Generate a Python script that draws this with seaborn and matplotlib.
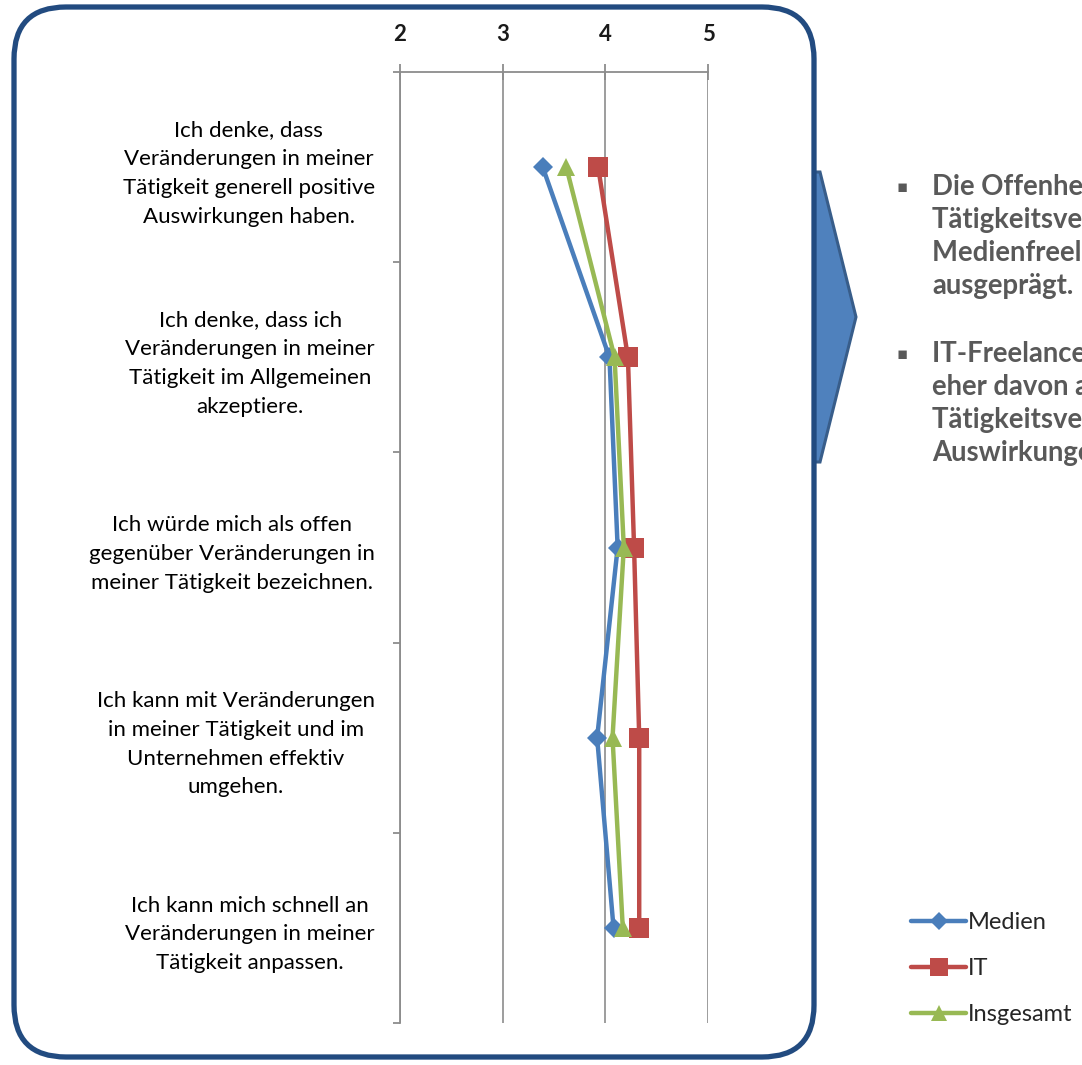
import matplotlib
matplotlib.use("Agg")
import matplotlib.pyplot as plt
import numpy as np
import pandas as pd
import seaborn as sns
from matplotlib.patches import FancyBboxPatch, Polygon
from matplotlib.lines import Line2D

# ---- data -------------------------------------------------------------
statements = [
    "Ich denke, dass\nVeränderungen in meiner\nTätigkeit generell positive\nAuswirkungen haben.",
    "Ich denke, dass ich\nVeränderungen in meiner\nTätigkeit im Allgemeinen\nakzeptiere.",
    "Ich würde mich als offen\ngegenüber Veränderungen in\nmeiner Tätigkeit bezeichnen.",
    "Ich kann mit Veränderungen\nin meiner Tätigkeit und im\nUnternehmen effektiv\numgehen.",
    "Ich kann mich schnell an\nVeränderungen in meiner\nTätigkeit anpassen.",
]
medien = [3.39, 4.04, 4.12, 3.92, 4.08]
it = [3.93, 4.22, 4.28, 4.33, 4.33]
insgesamt = [3.62, 4.09, 4.18, 4.07, 4.17]
series_names = ["Medien", "IT", "Insgesamt"]
scale_ticks = [2, 3, 4, 5]

bullet_1 = ["Die Offenheit gegenüber", "Tätigkeitsveränderungen ist bei",
            "Medienfreelancern weniger", "ausgeprägt."]
bullet_2 = ["IT-Freelancer gehen", "eher davon aus, dass",
            "Tätigkeitsveränderungen positive", "Auswirkungen haben."]

colors = {"Medien": "#4A7EBB", "IT": "#BE4B48", "Insgesamt": "#98B954"}
markers = {"Medien": "D", "IT": "s", "Insgesamt": "^"}
msizes = {"Medien": 10.0, "IT": 14.0, "Insgesamt": 12.5}

rows = []
for name, vals in zip(series_names, [medien, it, insgesamt]):
    for i, v in enumerate(vals):
        rows.append({"Gruppe": name, "pos": i, "Wert": v})
df = pd.DataFrame(rows)

# ---- figure -----------------------------------------------------------
sns.set_style("white")
plt.rcParams["font.family"] = ["Lato", "DejaVu Sans"]

W, H = 1082, 1065
fig = plt.figure(figsize=(W / 100, H / 100), dpi=100)
fig.patch.set_facecolor("white")

ax = fig.add_axes([400 / W, 1 - 1023 / H, 308 / W, (1023 - 72) / H])
grid_col = "#8C8C8C"

for name in series_names:
    sub = df[df["Gruppe"] == name]
    sns.lineplot(data=sub, x="Wert", y="pos", orient="y", sort=False,
                 estimator=None, color=colors[name], marker=markers[name],
                 markersize=msizes[name], markeredgewidth=0, lw=3.2,
                 ax=ax, legend=False)

ax.set_xlim(2, 5)
ax.set_ylim(4.5, -0.5)
ax.set_xlabel("")
ax.set_ylabel("")

ax.xaxis.tick_top()
ax.set_xticks(scale_ticks)
ax.set_xticklabels([str(t) for t in scale_ticks], fontsize=16,
                   fontweight="bold", color="#1A1A1A")
ax.tick_params(axis="x", direction="inout", length=11, width=1.3,
               color=grid_col, pad=14)

ax.set_yticks(range(len(statements)))
ax.set_yticklabels(statements, fontsize=16, color="#000000")
ax.set_yticks(np.arange(-0.5, len(statements), 1.0), minor=True)
ax.tick_params(axis="y", which="major", length=0, pad=18)
ax.tick_params(axis="y", which="minor", direction="out", length=5,
               width=1.3, color=grid_col, left=True)
for lbl in ax.get_yticklabels():
    lbl.set_multialignment("center")
    lbl.set_linespacing(1.55)

ax.grid(axis="x", color=grid_col, lw=1.2)
ax.grid(axis="y", visible=False)
for side in ["right", "bottom"]:
    ax.spines[side].set_visible(False)
for side in ["top", "left"]:
    ax.spines[side].set_color(grid_col)
    ax.spines[side].set_linewidth(1.3)
ax.set_axisbelow(True)

# ---- legend -----------------------------------------------------------
handles = [Line2D([0], [0], color=colors[n], lw=3.2, marker=markers[n],
                  markersize=msizes[n] * 0.95, markeredgewidth=0)
           for n in series_names]
fig.legend(handles, series_names, loc="upper left",
           bbox_to_anchor=(902 / W, 1 - 903 / H), frameon=False,
           fontsize=17, handlelength=2.3, handletextpad=0.08,
           labelspacing=1.05, borderaxespad=0, labelcolor="#262626")

# ---- overlay: frame, arrow, bullet text --------------------------------
ov = fig.add_axes([0, 0, 1, 1], zorder=5)
ov.set_xlim(0, W)
ov.set_ylim(H, 0)
ov.axis("off")
ov.patch.set_alpha(0)

arrow = Polygon([(814, 172), (820, 172), (856, 317), (820, 462), (814, 462)],
                closed=True, facecolor="#4F81BD", edgecolor="#385D8A", lw=2.2)
ov.add_patch(arrow)

frame = FancyBboxPatch((14, 7), 800, 1050,
                       boxstyle="round,pad=0,rounding_size=52",
                       facecolor="none", edgecolor="#224B80", lw=3.8)
ov.add_patch(frame)

text_col = "#595959"
for lines, y0 in [(bullet_1, 187), (bullet_2, 354)]:
    ov.text(902, y0, "▪", fontsize=12, color=text_col, ha="center",
            va="center", family=["DejaVu Sans"])
    for k, line in enumerate(lines):
        ov.text(932, y0 + 33 * k, line, fontsize=19.8, fontweight="bold",
                color=text_col, ha="left", va="center")

fig.savefig("out.png", dpi=100)
